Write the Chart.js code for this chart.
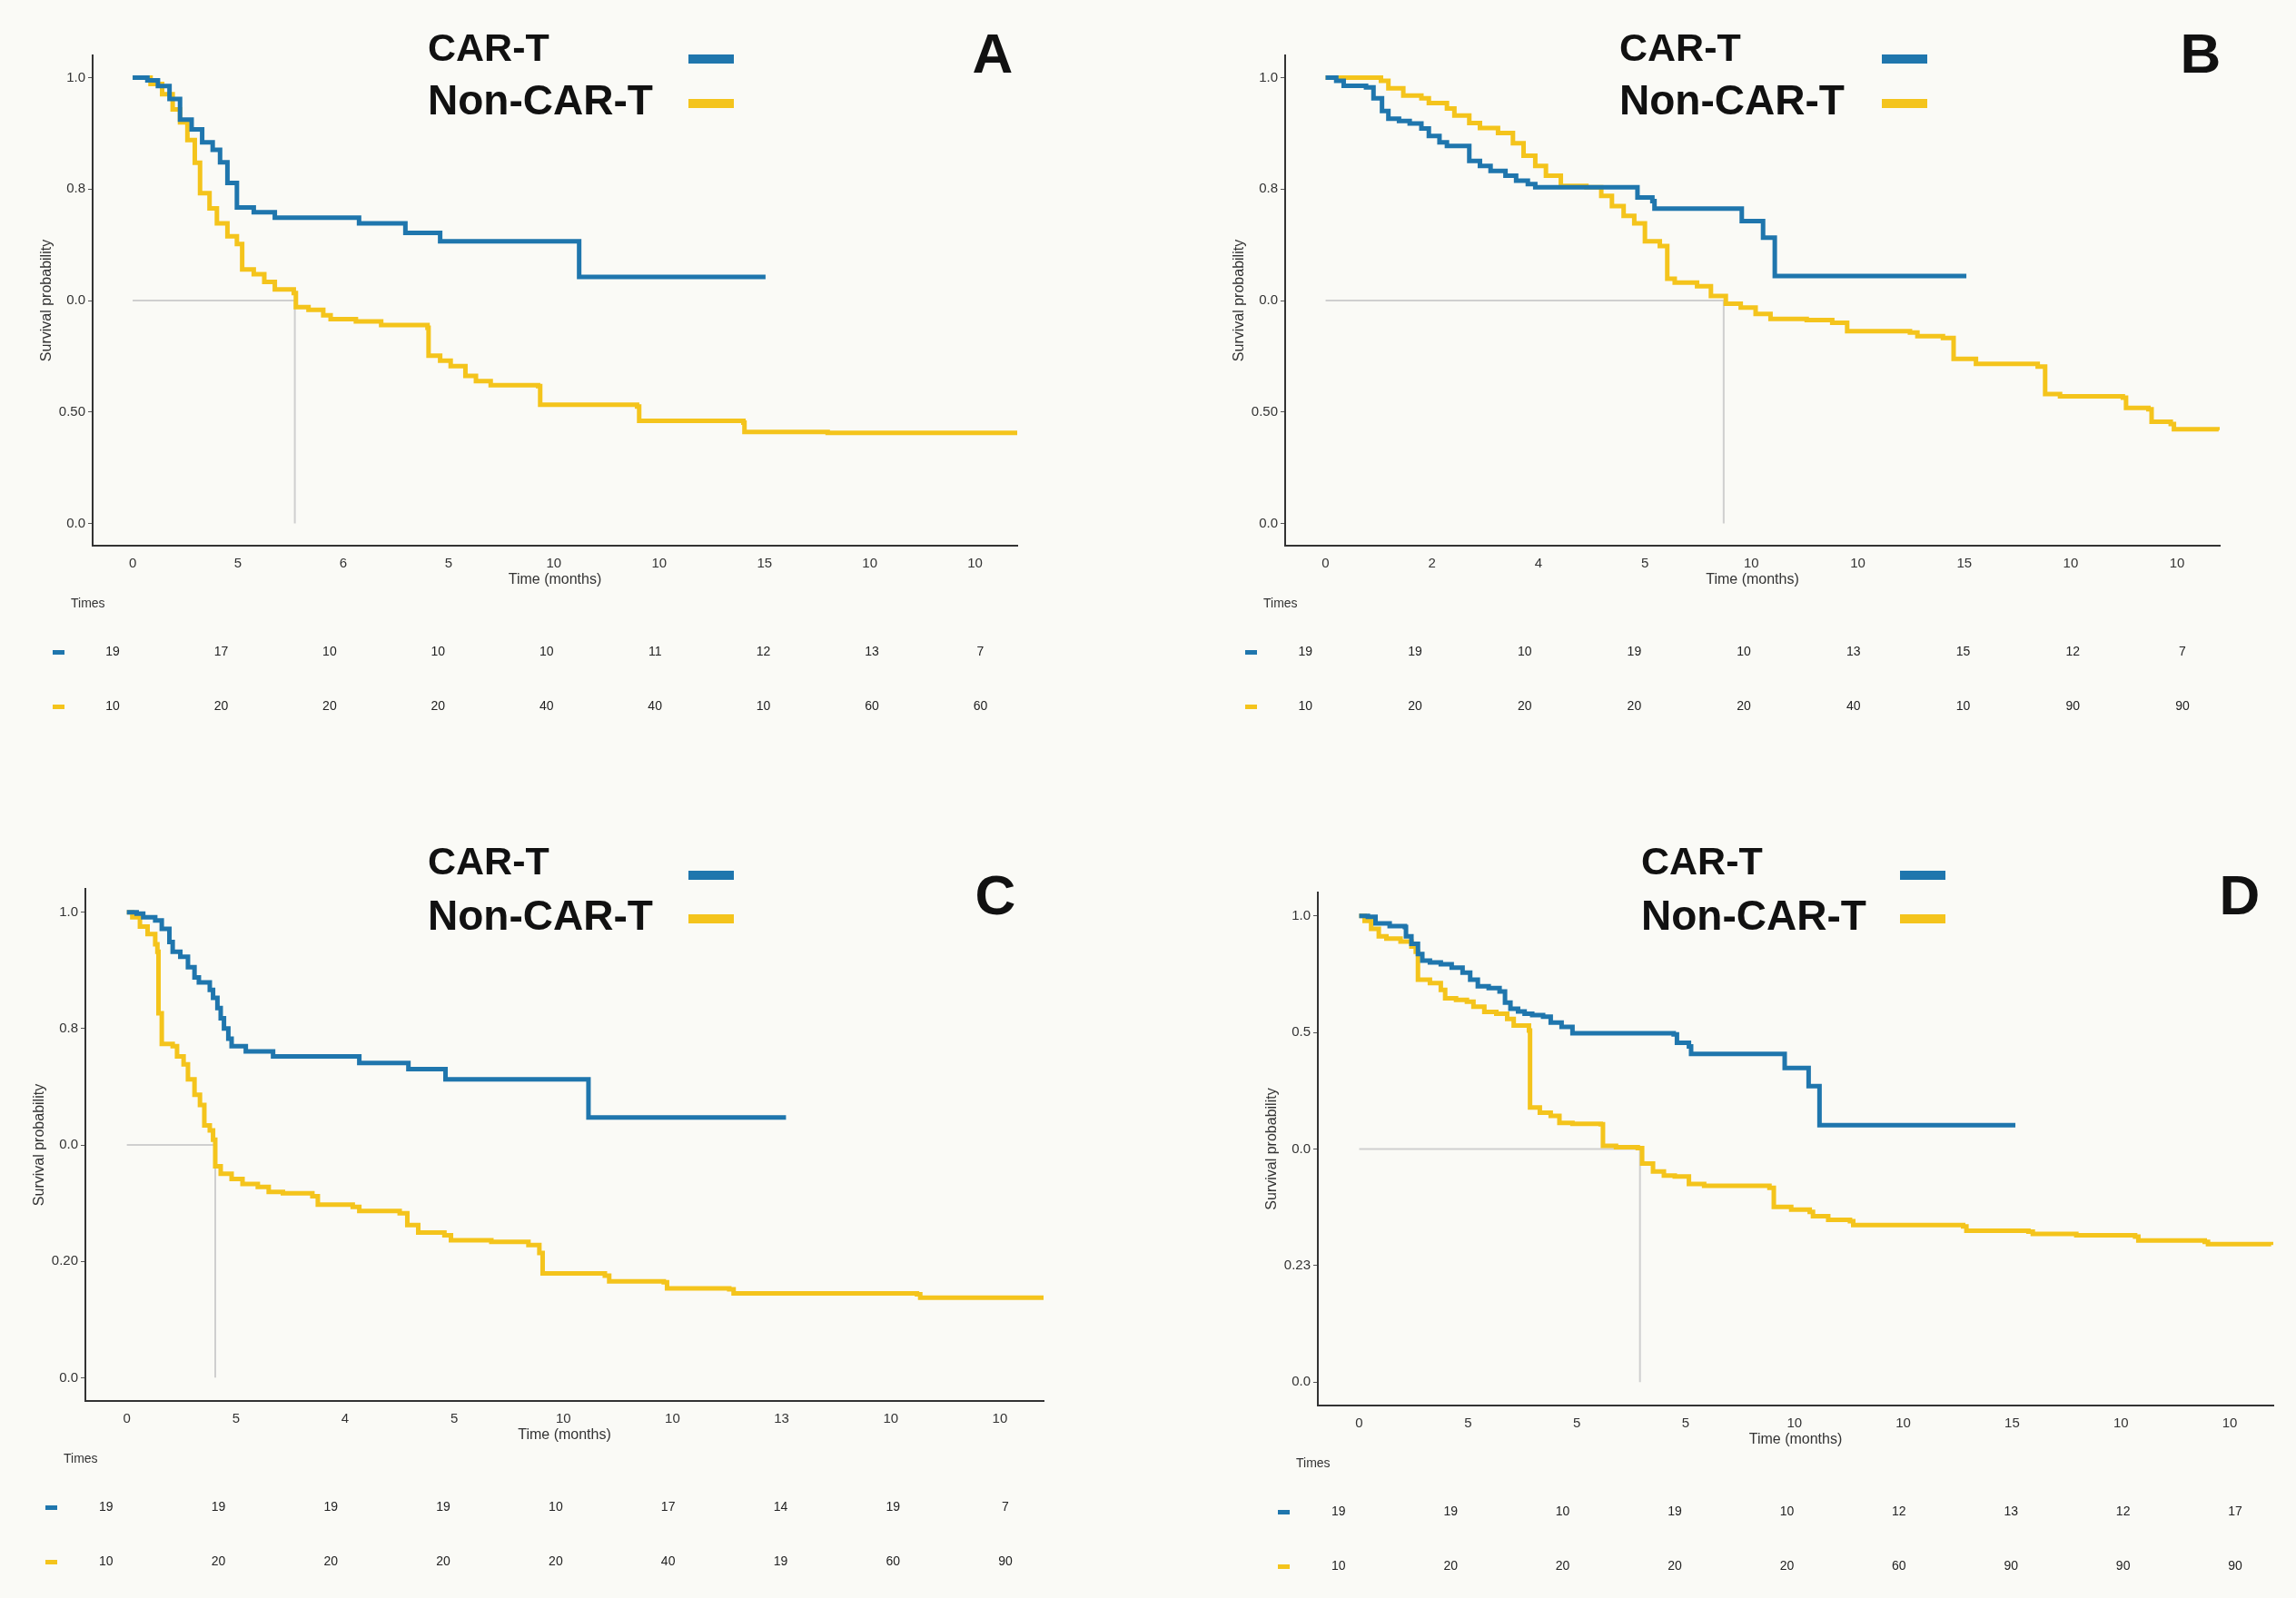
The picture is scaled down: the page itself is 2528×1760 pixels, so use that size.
<!DOCTYPE html>
<html lang="en">
<head>
  <meta charset="UTF-8" />
  <title>CAR-T vs Non-CAR-T survival</title>
  <script src="https://cdn.jsdelivr.net/npm/chart.js"></script>
  <style>
    body { margin: 0; background: #fafaf6; width: 2528px; height: 1760px; position: relative; overflow: hidden; }
    .panel { position: absolute; width: 1264px; height: 880px; }
  </style>
</head>
<body>
  <div class="panel" style="left:0;top:0"><canvas id="chartA"></canvas></div>
  <div class="panel" style="left:1264px;top:0"><canvas id="chartB"></canvas></div>
  <div class="panel" style="left:0;top:880px"><canvas id="chartC"></canvas></div>
  <div class="panel" style="left:1264px;top:880px"><canvas id="chartD"></canvas></div>

  <script>
    // tick labels as printed on the figure
    const xLabelsA = ['0', '5', '6', '5', '10', '10', '15', '10', '10'];
    const xLabelsB = ['0', '2', '4', '5', '10', '10', '15', '10', '10'];
    const xLabelsC = ['0', '5', '4', '5', '10', '10', '13', '10', '10'];
    const xLabelsD = ['0', '5', '5', '5', '10', '10', '15', '10', '10'];

    const yLabelsA = ['1.0', '0.8', '0.0', '0.50', '0.0'];
    const yLabelsB = ['1.0', '0.8', '0.0', '0.50', '0.0'];
    const yLabelsC = ['1.0', '0.8', '0.0', '0.20', '0.0'];
    const yLabelsD = ['1.0', '0.5', '0.0', '0.23', '0.0'];

    // survival curves: [time position, survival]
    const carA = [[0,1],[0.14,0.994],[0.24,0.981],[0.35,0.952],[0.45,0.906],[0.56,0.884],[0.66,0.855],[0.76,0.838],[0.83,0.81],[0.9,0.764],[0.99,0.709],[1.15,0.698],[1.35,0.686],[2.15,0.673],[2.59,0.652],[2.92,0.633],[4.24,0.553],[6.01,0.553]];
    const nonA = [[0,1],[0.17,0.986],[0.28,0.963],[0.38,0.929],[0.45,0.9],[0.52,0.86],[0.59,0.809],[0.64,0.741],[0.73,0.707],[0.8,0.673],[0.9,0.644],[0.99,0.627],[1.04,0.57],[1.15,0.559],[1.25,0.542],[1.35,0.525],[1.53,0.517],[1.55,0.485],[1.67,0.479],[1.81,0.467],[1.88,0.458],[2.12,0.453],[2.36,0.445],[2.8,0.439],[2.81,0.376],[2.92,0.365],[3.02,0.353],[3.16,0.331],[3.26,0.319],[3.4,0.31],[3.85,0.308],[3.87,0.266],[4.79,0.262],[4.81,0.23],[5.8,0.226],[5.81,0.205],[6.6,0.203],[8.4,0.202]];

    const carB = [[0,1],[0.1,0.993],[0.17,0.982],[0.38,0.978],[0.45,0.954],[0.53,0.925],[0.59,0.908],[0.69,0.903],[0.79,0.897],[0.9,0.886],[0.97,0.869],[1.07,0.855],[1.14,0.847],[1.35,0.813],[1.45,0.802],[1.55,0.791],[1.69,0.78],[1.79,0.769],[1.9,0.761],[1.97,0.754],[2.93,0.731],[3.07,0.723],[3.09,0.706],[3.91,0.678],[4.11,0.641],[4.22,0.555],[6.02,0.555]];
    const nonB = [[0,1],[0.52,0.993],[0.59,0.976],[0.73,0.96],[0.9,0.954],[0.97,0.943],[1.14,0.931],[1.21,0.915],[1.35,0.898],[1.45,0.887],[1.62,0.876],[1.76,0.853],[1.86,0.825],[1.97,0.802],[2.07,0.78],[2.21,0.757],[2.45,0.754],[2.59,0.735],[2.69,0.712],[2.8,0.69],[2.9,0.673],[3.0,0.633],[3.14,0.622],[3.21,0.549],[3.28,0.54],[3.49,0.532],[3.62,0.51],[3.76,0.493],[3.9,0.484],[4.04,0.47],[4.18,0.459],[4.52,0.456],[4.76,0.45],[4.9,0.431],[5.49,0.428],[5.56,0.42],[5.8,0.416],[5.9,0.369],[6.11,0.358],[6.69,0.352],[6.76,0.29],[6.9,0.285],[7.49,0.282],[7.52,0.259],[7.73,0.256],[7.76,0.228],[7.94,0.223],[7.97,0.211],[8.39,0.209]];

    const carC = [[0,1],[0.09,0.997],[0.15,0.989],[0.26,0.982],[0.32,0.964],[0.39,0.936],[0.42,0.915],[0.49,0.904],[0.56,0.882],[0.62,0.86],[0.66,0.849],[0.76,0.833],[0.79,0.816],[0.83,0.794],[0.86,0.772],[0.89,0.75],[0.93,0.728],[0.96,0.712],[1.09,0.701],[1.34,0.69],[2.13,0.676],[2.58,0.663],[2.92,0.641],[4.23,0.559],[6.04,0.559]];
    const nonC = [[0,1],[0.05,0.989],[0.12,0.969],[0.19,0.953],[0.26,0.931],[0.28,0.915],[0.29,0.783],[0.32,0.717],[0.42,0.712],[0.46,0.69],[0.52,0.673],[0.56,0.641],[0.62,0.608],[0.67,0.586],[0.71,0.542],[0.76,0.531],[0.79,0.511],[0.81,0.454],[0.86,0.438],[0.96,0.427],[1.06,0.416],[1.2,0.41],[1.3,0.399],[1.43,0.396],[1.7,0.39],[1.75,0.372],[2.07,0.367],[2.13,0.358],[2.5,0.353],[2.57,0.328],[2.67,0.312],[2.91,0.306],[2.97,0.295],[3.34,0.292],[3.68,0.285],[3.78,0.268],[3.81,0.224],[4.38,0.219],[4.42,0.207],[4.92,0.205],[4.95,0.192],[5.52,0.19],[5.56,0.181],[7.24,0.179],[7.27,0.172],[8.41,0.17]];

    const carD = [[0,1],[0.08,0.998],[0.15,0.984],[0.28,0.978],[0.42,0.976],[0.43,0.956],[0.48,0.94],[0.54,0.918],[0.58,0.904],[0.65,0.9],[0.75,0.896],[0.85,0.889],[0.95,0.878],[1.02,0.863],[1.09,0.849],[1.19,0.845],[1.29,0.838],[1.34,0.814],[1.39,0.801],[1.46,0.795],[1.52,0.79],[1.59,0.787],[1.69,0.784],[1.76,0.771],[1.86,0.762],[1.96,0.748],[2.89,0.746],[2.92,0.728],[3.03,0.72],[3.05,0.704],[3.91,0.674],[4.13,0.635],[4.23,0.551],[6.03,0.551]];
    const nonD = [[0,1],[0.05,0.989],[0.11,0.972],[0.18,0.956],[0.25,0.951],[0.38,0.945],[0.48,0.934],[0.52,0.923],[0.54,0.863],[0.65,0.856],[0.75,0.841],[0.79,0.823],[0.89,0.82],[0.99,0.816],[1.05,0.805],[1.15,0.794],[1.26,0.79],[1.36,0.779],[1.42,0.765],[1.56,0.754],[1.57,0.589],[1.66,0.578],[1.76,0.571],[1.84,0.556],[1.96,0.554],[2.22,0.553],[2.24,0.507],[2.36,0.504],[2.56,0.502],[2.6,0.469],[2.7,0.452],[2.8,0.443],[2.9,0.441],[3.03,0.425],[3.17,0.421],[3.77,0.417],[3.81,0.376],[3.97,0.37],[4.14,0.365],[4.17,0.356],[4.31,0.348],[4.51,0.345],[4.54,0.337],[5.55,0.334],[5.58,0.325],[6.15,0.323],[6.19,0.318],[6.59,0.315],[7.13,0.312],[7.16,0.304],[7.77,0.301],[7.8,0.296],[8.38,0.294]];

    // median guide position (time position where non-CAR-T crosses 0.5)
    const medianA = 1.54;
    const medianB = 3.74;
    const medianC = 0.81;
    const medianD = 2.58;

    // numbers at risk
    const riskCarA = ['19', '17', '10', '10', '10', '11', '12', '13', '7'];
    const riskNonA = ['10', '20', '20', '20', '40', '40', '10', '60', '60'];
    const riskCarB = ['19', '19', '10', '19', '10', '13', '15', '12', '7'];
    const riskNonB = ['10', '20', '20', '20', '20', '40', '10', '90', '90'];
    const riskCarC = ['19', '19', '19', '19', '10', '17', '14', '19', '7'];
    const riskNonC = ['10', '20', '20', '20', '20', '40', '19', '60', '90'];
    const riskCarD = ['19', '19', '10', '19', '10', '12', '13', '12', '17'];
    const riskNonD = ['10', '20', '20', '20', '20', '60', '90', '90', '90'];

    const BLUE = '#1f76ad';
    const GOLD = '#f4c41c';
    const FONT = '"Liberation Sans", Arial, sans-serif';

    const decorPlugin = {
      id: 'decor',
      beforeDatasetsDraw(chart, args, o) {
        const ctx = chart.ctx, x = chart.scales.x, y = chart.scales.y;
        ctx.save();
        ctx.strokeStyle = '#cfcfcf';
        ctx.lineWidth = 2;
        ctx.beginPath();
        ctx.moveTo(x.getPixelForValue(0), y.getPixelForValue(0.5));
        ctx.lineTo(x.getPixelForValue(o.median), y.getPixelForValue(0.5));
        ctx.lineTo(x.getPixelForValue(o.median), y.getPixelForValue(0));
        ctx.stroke();
        ctx.restore();
      },
      afterDraw(chart, args, o) {
        const ctx = chart.ctx, x = chart.scales.x, area = chart.chartArea;
        ctx.save();
        // legend
        ctx.fillStyle = '#111';
        ctx.textBaseline = 'middle';
        ctx.textAlign = 'left';
        ctx.font = 'bold 43px ' + FONT;
        ctx.fillText('CAR-T', o.legX, o.legY1);
        ctx.font = 'bold 46px ' + FONT;
        ctx.fillText('Non-CAR-T', o.legX, o.legY2);
        ctx.fillStyle = BLUE;
        ctx.fillRect(o.lineX, o.lineY1 - 5, 50, 10);
        ctx.fillStyle = GOLD;
        ctx.fillRect(o.lineX, o.lineY2 - 5, 50, 10);
        // panel letter
        ctx.fillStyle = '#111';
        ctx.textAlign = 'center';
        ctx.font = 'bold 62px ' + FONT;
        ctx.fillText(o.letter, o.letX, o.letY);
        // risk table
        ctx.font = '14px ' + FONT;
        ctx.fillStyle = '#333';
        ctx.textAlign = 'left';
        ctx.fillText('Times', area.left - 24, area.bottom + 64);
        const rowY1 = area.bottom + 117, rowY2 = area.bottom + 177;
        ctx.fillStyle = BLUE;
        ctx.fillRect(area.left - 44, rowY1 - 2, 13, 5);
        ctx.fillStyle = GOLD;
        ctx.fillRect(area.left - 44, rowY2 - 2, 13, 5);
        ctx.fillStyle = '#222';
        ctx.textAlign = 'center';
        o.riskCar.forEach((v, i) => ctx.fillText(v, x.getPixelForValue(-0.19 + i * 1.03), rowY1));
        o.riskNon.forEach((v, i) => ctx.fillText(v, x.getPixelForValue(-0.19 + i * 1.03), rowY2));
        ctx.restore();
      }
    };

    function toPoints(pairs) {
      return pairs.map(p => ({ x: p[0], y: p[1] }));
    }

    function makePanel(id, cfg) {
      const yWidth = 60, xHeight = 47;
      new Chart(document.getElementById(id), {
        type: 'line',
        data: {
          datasets: [
            { data: toPoints(cfg.car), borderColor: BLUE, borderWidth: 5, stepped: true, pointRadius: 0, fill: false },
            { data: toPoints(cfg.non), borderColor: GOLD, borderWidth: 5, stepped: true, pointRadius: 0, fill: false }
          ]
        },
        options: {
          responsive: true,
          maintainAspectRatio: false,
          animation: false,
          layout: {
            padding: {
              left: cfg.area[0] - yWidth,
              top: cfg.area[1],
              right: 1264 - cfg.area[2],
              bottom: 880 - cfg.area[3] - xHeight
            }
          },
          plugins: {
            legend: { display: false },
            tooltip: { enabled: false },
            decor: cfg.decor
          },
          scales: {
            x: {
              type: 'linear',
              min: -0.38,
              max: 8.4,
              afterFit: s => { s.height = xHeight; },
              afterBuildTicks: s => { s.ticks = cfg.xLabels.map((l, i) => ({ value: i })); },
              ticks: {
                callback: v => cfg.xLabels[v],
                color: '#333',
                font: { size: 15, family: FONT },
                padding: 3,
                maxRotation: 0
              },
              grid: { display: false },
              border: { display: true, color: '#333', width: 2 },
              title: { display: true, text: 'Time (months)', color: '#333', font: { size: 16, family: FONT }, padding: 0 }
            },
            y: {
              min: -0.05,
              max: 1.05,
              afterFit: s => { s.width = yWidth; },
              afterBuildTicks: s => { s.ticks = [0, 0.25, 0.5, 0.75, 1].map(v => ({ value: v })); },
              ticks: {
                callback: v => cfg.yLabels[4 - Math.round(v / 0.25)],
                color: '#333',
                font: { size: 15, family: FONT },
                padding: 3
              },
              grid: { drawOnChartArea: false, drawTicks: true, tickLength: 5, color: '#555' },
              border: { display: true, color: '#333', width: 2 },
              title: { display: true, text: 'Survival probability', color: '#333', font: { size: 16, family: FONT }, padding: 0 }
            }
          }
        },
        plugins: [decorPlugin]
      });
    }

    makePanel('chartA', {
      car: carA, non: nonA, xLabels: xLabelsA, yLabels: yLabelsA,
      area: [102, 61, 1120, 601],
      decor: { median: medianA, riskCar: riskCarA, riskNon: riskNonA, letter: 'A',
               legX: 471, legY1: 55, legY2: 113, lineX: 758, lineY1: 65, lineY2: 114, letX: 1093, letY: 63 }
    });
    makePanel('chartB', {
      car: carB, non: nonB, xLabels: xLabelsB, yLabels: yLabelsB,
      area: [151, 61, 1180, 601],
      decor: { median: medianB, riskCar: riskCarB, riskNon: riskNonB, letter: 'B',
               legX: 519, legY1: 55, legY2: 113, lineX: 808, lineY1: 65, lineY2: 114, letX: 1159, letY: 63 }
    });
    makePanel('chartC', {
      car: carC, non: nonC, xLabels: xLabelsC, yLabels: yLabelsC,
      area: [94, 99, 1149, 663],
      decor: { median: medianC, riskCar: riskCarC, riskNon: riskNonC, letter: 'C',
               legX: 471, legY1: 71, legY2: 131, lineX: 758, lineY1: 84, lineY2: 132, letX: 1096, letY: 110 }
    });
    makePanel('chartD', {
      car: carD, non: nonD, xLabels: xLabelsD, yLabels: yLabelsD,
      area: [187, 103, 1239, 668],
      decor: { median: medianD, riskCar: riskCarD, riskNon: riskNonD, letter: 'D',
               legX: 543, legY1: 71, legY2: 131, lineX: 828, lineY1: 84, lineY2: 132, letX: 1202, letY: 110 }
    });
  </script>
</body>
</html>
